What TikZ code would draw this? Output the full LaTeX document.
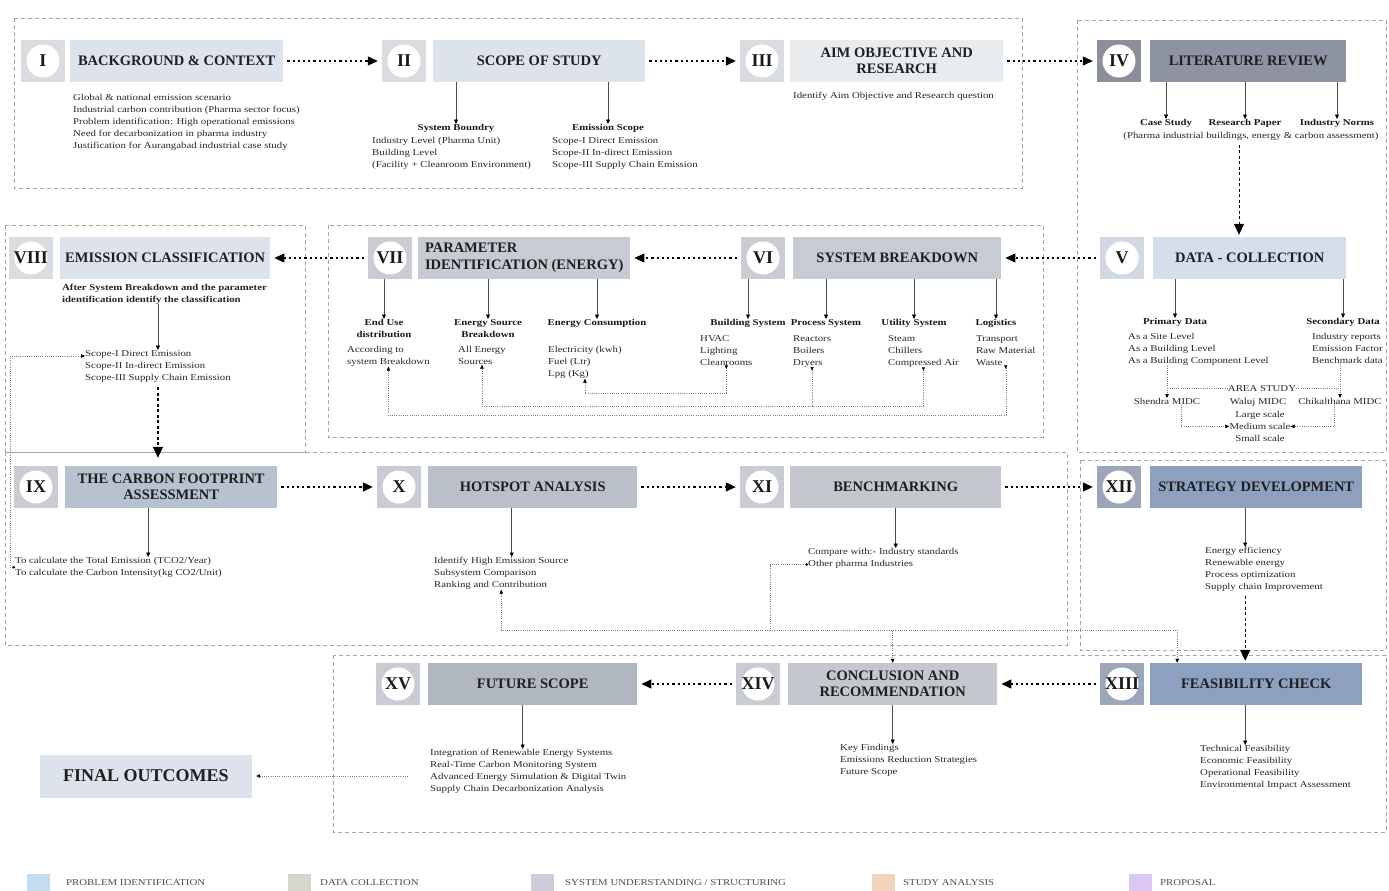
\documentclass[tikz,border=0pt]{standalone}
\usepackage{fontspec}
\setmainfont{Liberation Serif}
\newfontfamily\itemfont[FakeStretch=1.2]{Liberation Serif}
\usetikzlibrary{arrows.meta}

\definecolor{boxA}{HTML}{DDE3EC}
\definecolor{numA}{HTML}{D9DCE1}
\definecolor{boxB}{HTML}{E9ECEF}
\definecolor{boxC}{HTML}{8E93A3}
\definecolor{numC}{HTML}{8B8F9C}
\definecolor{boxD}{HTML}{D5DFEB}
\definecolor{numD}{HTML}{D3D9E2}
\definecolor{boxE}{HTML}{C6CBD4}
\definecolor{numE}{HTML}{C9CCD2}
\definecolor{boxF}{HTML}{B8C1CF}
\definecolor{boxG}{HTML}{BAC0CA}
\definecolor{boxH}{HTML}{C4C8CE}
\definecolor{boxI}{HTML}{8DA0BF}
\definecolor{numI}{HTML}{9BA6BA}
\definecolor{boxJ}{HTML}{B1B7C0}
\definecolor{lgA}{HTML}{C5DCEF}
\definecolor{lgB}{HTML}{D5D7CB}
\definecolor{lgC}{HTML}{CDCDDA}
\definecolor{lgD}{HTML}{F3D4BA}
\definecolor{lgE}{HTML}{DCC8F2}

\tikzset{
  numbox/.style={fill=#1, minimum width=44pt, minimum height=42pt, inner sep=0pt,
    text=black!90, font=\bfseries\fontsize{18}{18}\selectfont,
    path picture={\fill[white] (path picture bounding box.center) circle (16.5pt);}},
  title/.style={fill=#1, minimum height=42pt, inner sep=3pt, anchor=west, align=center,
    text=black!88, font=\bfseries\fontsize{14.5}{16.5}\selectfont},
  item/.style={font=\itemfont\fontsize{9}{12}\selectfont, align=left, inner sep=0pt,
    anchor=north west, text=black!85},
  subhead/.style={font=\itemfont\bfseries\fontsize{9}{12}\selectfont, align=center,
    inner sep=0pt, anchor=north, text=black!90},
  legend/.style={font=\itemfont\fontsize{9}{9}\selectfont, anchor=west, inner sep=0pt, text=black!70},
  zone/.style={draw=black!35, line width=0.7pt, dash pattern=on 4pt off 3pt},
  flow/.style={draw=black, line width=1.2pt, dash pattern=on 2.2pt off 3pt,
    -{Triangle[length=10pt,width=9pt]}, shorten <=4pt, shorten >=4pt},
  bigdash/.style={draw=black, line width=1.4pt, dash pattern=on 3pt off 2.5pt,
    -{Triangle[length=11pt,width=10pt]}},
  drop/.style={draw=black!70, line width=0.5pt, -{Triangle[length=4.5pt,width=4pt,color=black]}},
  feedline/.style={draw=black!50, line width=0.45pt, dash pattern=on 1pt off 1.2pt},
  feed/.style={feedline, {Triangle[reversed,length=3.5pt,width=3pt,color=black]}-{Triangle[length=4pt,width=3.5pt,color=black]}},
  feedtop/.style={feedline, {Triangle[reversed,length=3.5pt,width=3pt,color=black]}-},
  feedend/.style={feedline, -{Triangle[length=4pt,width=3.5pt,color=black]}},
  feedcirc/.style={feedline, {Circle[length=2.5pt,color=black]}-{Triangle[length=4pt,width=3.5pt,color=black]}}
}

\begin{document}
\begin{tikzpicture}[x=1pt,y=-1pt]
\useasboundingbox (0,0) rectangle (1389,891);

% zones
\draw[zone] (14,18) rectangle (1022,188);
\draw[zone] (1077,20) rectangle (1386,452);
\draw[zone] (5,225) rectangle (305,452);
\draw[zone] (328,225) rectangle (1043,437);
\draw[zone] (5,452) rectangle (1067,645);
\draw[zone] (1080,460) rectangle (1386,650);
\draw[zone] (333,655) rectangle (1386,832);

% I - IV
\node[numbox=numA] (n1) at (43,61) {I};
\node[title=boxA, minimum width=213pt] (t1) at (70,61) {BACKGROUND \& CONTEXT};
\node[numbox=numA] (n2) at (404,61) {II};
\node[title=boxA, minimum width=212pt] (t2) at (433,61) {SCOPE OF STUDY};
\node[numbox=numA] (n3) at (762,61) {III};
\node[title=boxB, minimum width=213pt] (t3) at (790,61) {AIM OBJECTIVE AND\\RESEARCH};
\node[numbox=numC] (n4) at (1119,61) {IV};
\node[title=boxC, minimum width=196pt] (t4) at (1150,61) {LITERATURE REVIEW};
\draw[flow] (t1) -- (n2);
\draw[flow] (t2) -- (n3);
\draw[flow] (t3) -- (n4);

\node[item] (bgList) at (73,94) {Global \& national emission scenario\\Industrial carbon contribution (Pharma sector focus)\\Problem identification: High operational emissions\\Need for decarbonization in pharma industry\\Justification for Aurangabad industrial case study};

\node[subhead] (sysB) at (456,124) {System Boundry};
\node[item] (sysBList) at (372,137) {Industry Level (Pharma Unit)\\Building Level\\(Facility + Cleanroom Environment)};
\node[subhead] (emScope) at (608,124) {Emission Scope};
\node[item] (emScopeList) at (552,137) {Scope-I Direct Emission\\Scope-II In-direct Emission\\Scope-III Supply Chain Emission};
\draw[drop] (sysB.north |- t2.south) -- (sysB.north);
\draw[drop] (emScope.north |- t2.south) -- (emScope.north);

\node[item] (aimNote) at (793,92) {Identify Aim Objective and Research question};

\node[subhead] (caseS) at (1166,119) {Case Study};
\node[subhead] (resP) at (1245,119) {Research Paper};
\node[subhead] (indN) at (1337,119) {Industry Norms};
\node[item, anchor=north] (litNote) at (1251,132) {(Pharma industrial buildings, energy \& carbon assessment)};
\draw[drop] (caseS.north |- t4.south) -- (caseS.north);
\draw[drop] (resP.north |- t4.south) -- (resP.north);
\draw[drop] (indN.north |- t4.south) -- (indN.north);

% V - VIII
\node[numbox=numD] (n5) at (1122,258) {V};
\node[title=boxD, minimum width=193pt] (t5) at (1153,258) {DATA - COLLECTION};
\node[numbox=numE] (n6) at (763,258) {VI};
\node[title=boxE, minimum width=208pt] (t6) at (793,258) {SYSTEM BREAKDOWN};
\node[numbox=numE] (n7) at (390,258) {VII};
\node[title=boxE, minimum width=212pt, align=left] (t7) at (418,258) {PARAMETER\\IDENTIFICATION (ENERGY)};
\node[numbox=numA] (n8) at (31,258) {VIII};
\node[title=boxA, minimum width=210pt] (t8) at (60,258) {EMISSION CLASSIFICATION};
\draw[bigdash, line width=1pt, shorten <=4pt, shorten >=2pt] ([xshift=-12pt]litNote.south) -- ([xshift=-12pt]litNote.south |- t5.north);
\draw[flow] (n5) -- (t6);
\draw[flow] (n6) -- (t7);
\draw[flow] (n7) -- (t8);

% data collection
\node[subhead] (priD) at (1175,318) {Primary Data};
\node[subhead] (secD) at (1343,318) {Secondary Data};
\node[item] (priList) at (1128,333) {As a Site Level\\As a Building Level\\As a Building Component Level};
\node[item] (secList) at (1312,333) {Industry reports\\Emission Factor\\Benchmark data};
\draw[drop] (priD.north |- t5.south) -- (priD.north);
\draw[drop] (secD.north |- t5.south) -- (secD.north);
\node[item, anchor=north] (areaS) at (1262,385) {AREA STUDY};
\node[item, anchor=north] (shendra) at (1167,398) {Shendra MIDC};
\node[item, anchor=north] (waluj) at (1258,398) {Waluj MIDC};
\node[item, anchor=north] (chikal) at (1340,398) {Chikalthana MIDC};
\node[item, anchor=north] (large) at (1260,411) {Large scale};
\node[item, anchor=north] (medium) at (1260,423) {Medium scale};
\node[item, anchor=north] (small) at (1260,435) {Small scale};
\draw[feedend] (shendra.north |- priList.south) -- (shendra.north);
\draw[feedend] (chikal.north |- secList.south) -- (chikal.north);
\draw[feedline] (areaS.west) -- (areaS.west -| shendra.north);
\draw[feedline] (areaS.east) -- (areaS.east -| chikal.north);
\draw[feedend] ([xshift=14pt]shendra.south) |- (medium.west);
\draw[feedend] ([xshift=-6pt]chikal.south) |- (medium.east);

% system breakdown
\node[subhead] (bldS) at (748,319) {Building System};
\node[subhead] (proS) at (826,319) {Process System};
\node[subhead] (utiS) at (914,319) {Utility System};
\node[subhead] (logS) at (996,319) {Logistics};
\node[item] (bldList) at (700,335) {HVAC\\Lighting\\Cleanrooms};
\node[item] (proList) at (793,335) {Reactors\\Boilers\\Dryers};
\node[item] (utiList) at (888,335) {Steam\\Chillers\\Compressed Air};
\node[item] (logList) at (976,335) {Transport\\Raw Material\\Waste};
\draw[drop] (bldS.north |- n6.south) -- (bldS.north);
\draw[drop] (proS.north |- t6.south) -- (proS.north);
\draw[drop] (utiS.north |- t6.south) -- (utiS.north);
\draw[drop] (logS.north |- t6.south) -- (logS.north);

% parameter identification
\node[subhead] (endU) at (384,319) {End Use\\distribution};
\node[subhead] (srcB) at (488,319) {Energy Source\\Breakdown};
\node[subhead] (conS) at (597,319) {Energy Consumption};
\node[item] (endList) at (347,346) {According to\\system Breakdown};
\node[item] (srcList) at (458,346) {All Energy\\Sources};
\node[item] (conList) at (548,346) {Electricity (kwh)\\Fuel (Ltr)\\Lpg (Kg)};
\draw[drop] (endU.north |- n7.south) -- (endU.north);
\draw[drop] (srcB.north |- t7.south) -- (srcB.north);
\draw[drop] (conS.north |- t7.south) -- (conS.north);

% links back from VI to VII
\coordinate (srcBus) at ([yshift=-39pt]proList.south);
\draw[feed] (bldList.south) -- ++(0,28) -| (conList.south);
\draw[feed] (proList.south) -- (srcBus) -| (srcList.south);
\draw[feedtop] (utiList.south) |- (srcBus);
\draw[feed] (logList.south) -- ++(0,50) -| (endList.south);

% emission classification
\node[item, font=\itemfont\bfseries\fontsize{9}{11.5}\selectfont] (clsNote) at (62,284) {After System Breakdown and the parameter\\identification identify the classification};
\node[item] (scopeList) at (85,350) {Scope-I Direct Emission\\Scope-II In-direct Emission\\Scope-III Supply Chain Emission};
\draw[drop] (clsNote.south -| scopeList.north) -- (scopeList.north);

% IX - XII
\node[numbox=numE] (n9) at (36,487) {IX};
\node[title=boxF, minimum width=212pt] (t9) at (65,487) {THE CARBON FOOTPRINT\\ASSESSMENT};
\node[numbox=numE] (n10) at (399,487) {X};
\node[title=boxG, minimum width=209pt] (t10) at (428,487) {HOTSPOT ANALYSIS};
\node[numbox=numE] (n11) at (762,487) {XI};
\node[title=boxH, minimum width=211pt] (t11) at (790,487) {BENCHMARKING};
\node[numbox=numI] (n12) at (1119,487) {XII};
\node[title=boxI, minimum width=212pt] (t12) at (1150,487) {STRATEGY DEVELOPMENT};
\draw[bigdash, shorten <=5pt, shorten >=8pt] (scopeList.south) -- (scopeList.south |- t9.north);
\draw[flow] (t9) -- (n10);
\draw[flow] (t10) -- (n11);
\draw[flow] (t11) -- (n12);

\node[item] (calcList) at (15,557) {To calculate the Total Emission (TCO2/Year)\\To calculate the Carbon Intensity(kg CO2/Unit)};
\draw[drop] ([xshift=-23pt]t9.south) -- ([xshift=-23pt]t9.south |- calcList.north);
\draw[feedcirc] (calcList.west) -- ++(-5,0) |- ([yshift=-6pt]scopeList.north west);

\node[item] (hotList) at (434,557) {Identify High Emission Source\\Subsystem Comparison\\Ranking and Contribution};
\draw[drop] ([xshift=-21pt]t10.south) -- ([xshift=-21pt]t10.south |- hotList.north);

\node[item] (benchList) at (808,548) {Compare with:- Industry standards\\Other pharma Industries};
\draw[drop] (t11.south) -- (t11.south |- benchList.north);

\node[item] (stratList) at (1205,547) {Energy efficiency\\Renewable energy\\Process optimization\\Supply chain Improvement};
\draw[drop] ([xshift=-11pt]t12.south) -- ([xshift=-11pt]t12.south |- stratList.north);

% XIII - XV
\node[numbox=numI] (n13) at (1122,684) {XIII};
\node[title=boxI, minimum width=212pt] (t13) at (1150,684) {FEASIBILITY CHECK};
\node[numbox=numE] (n14) at (758,684) {XIV};
\node[title=boxH, minimum width=209pt] (t14) at (788,684) {CONCLUSION AND\\RECOMMENDATION};
\node[numbox=numE] (n15) at (398,684) {XV};
\node[title=boxJ, minimum width=209pt] (t15) at (428,684) {FUTURE SCOPE};
\draw[bigdash, shorten <=4pt, shorten >=2pt] ([xshift=-11pt]t12.south |- stratList.south) -- ([xshift=-11pt]t12.south |- t13.north);
\draw[flow] (n13) -- (t14);
\draw[flow] (n14) -- (t15);

% links from benchmarking
\coordinate (bus) at (770,630);
\draw[feedline, {Circle[length=2.5pt,color=black]}-] ([yshift=4pt]benchList.south west) -| (bus);
\draw[feedend] (bus) -| (hotList.south);
\draw[feedend] (bus) -| (t14.north);
\draw[feedend] (bus) -| ([xshift=-79pt]t13.north);

\node[item] (feasList) at (1200,745) {Technical Feasibility\\Economic Feasibility\\Operational Feasibility\\Environmental Impact Assessment};
\draw[drop] ([xshift=-11pt]t13.south) -- ([xshift=-11pt]t13.south |- feasList.north);

\node[item] (concList) at (840,744) {Key Findings\\Emissions Reduction Strategies\\Future Scope};
\draw[drop] (t14.south) -- (t14.south |- concList.north);

\node[item] (futList) at (430,749) {Integration of Renewable Energy Systems\\Real-Time Carbon Monitoring System\\Advanced Energy Simulation \& Digital Twin\\Supply Chain Decarbonization Analysis};
\draw[drop] ([xshift=-10pt]t15.south) -- ([xshift=-10pt]t15.south |- futList.north);

% final outcome
\node[fill=boxA, minimum width=212pt, minimum height=43pt, text=black!88,
  font=\bfseries\fontsize{18}{18}\selectfont] (fin) at (146,776) {FINAL OUTCOMES};
\draw[feedend, shorten <=22pt, shorten >=4pt] (futList.west |- fin.east) -- (fin.east);

% legend
\foreach \sx/\tx/\col/\lab [count=\i] in {27/66/lgA/{PROBLEM IDENTIFICATION}, 288/320/lgB/{DATA COLLECTION},
  531/565/lgC/{SYSTEM UNDERSTANDING / STRUCTURING}, 872/903/lgD/{STUDY ANALYSIS}, 1129/1160/lgE/{PROPOSAL}}
{
  \fill[\col] (\sx,874) rectangle ++(23,17);
  \node[legend] (leg\i) at (\tx,883) {\lab};
}
\end{tikzpicture}
\end{document}
